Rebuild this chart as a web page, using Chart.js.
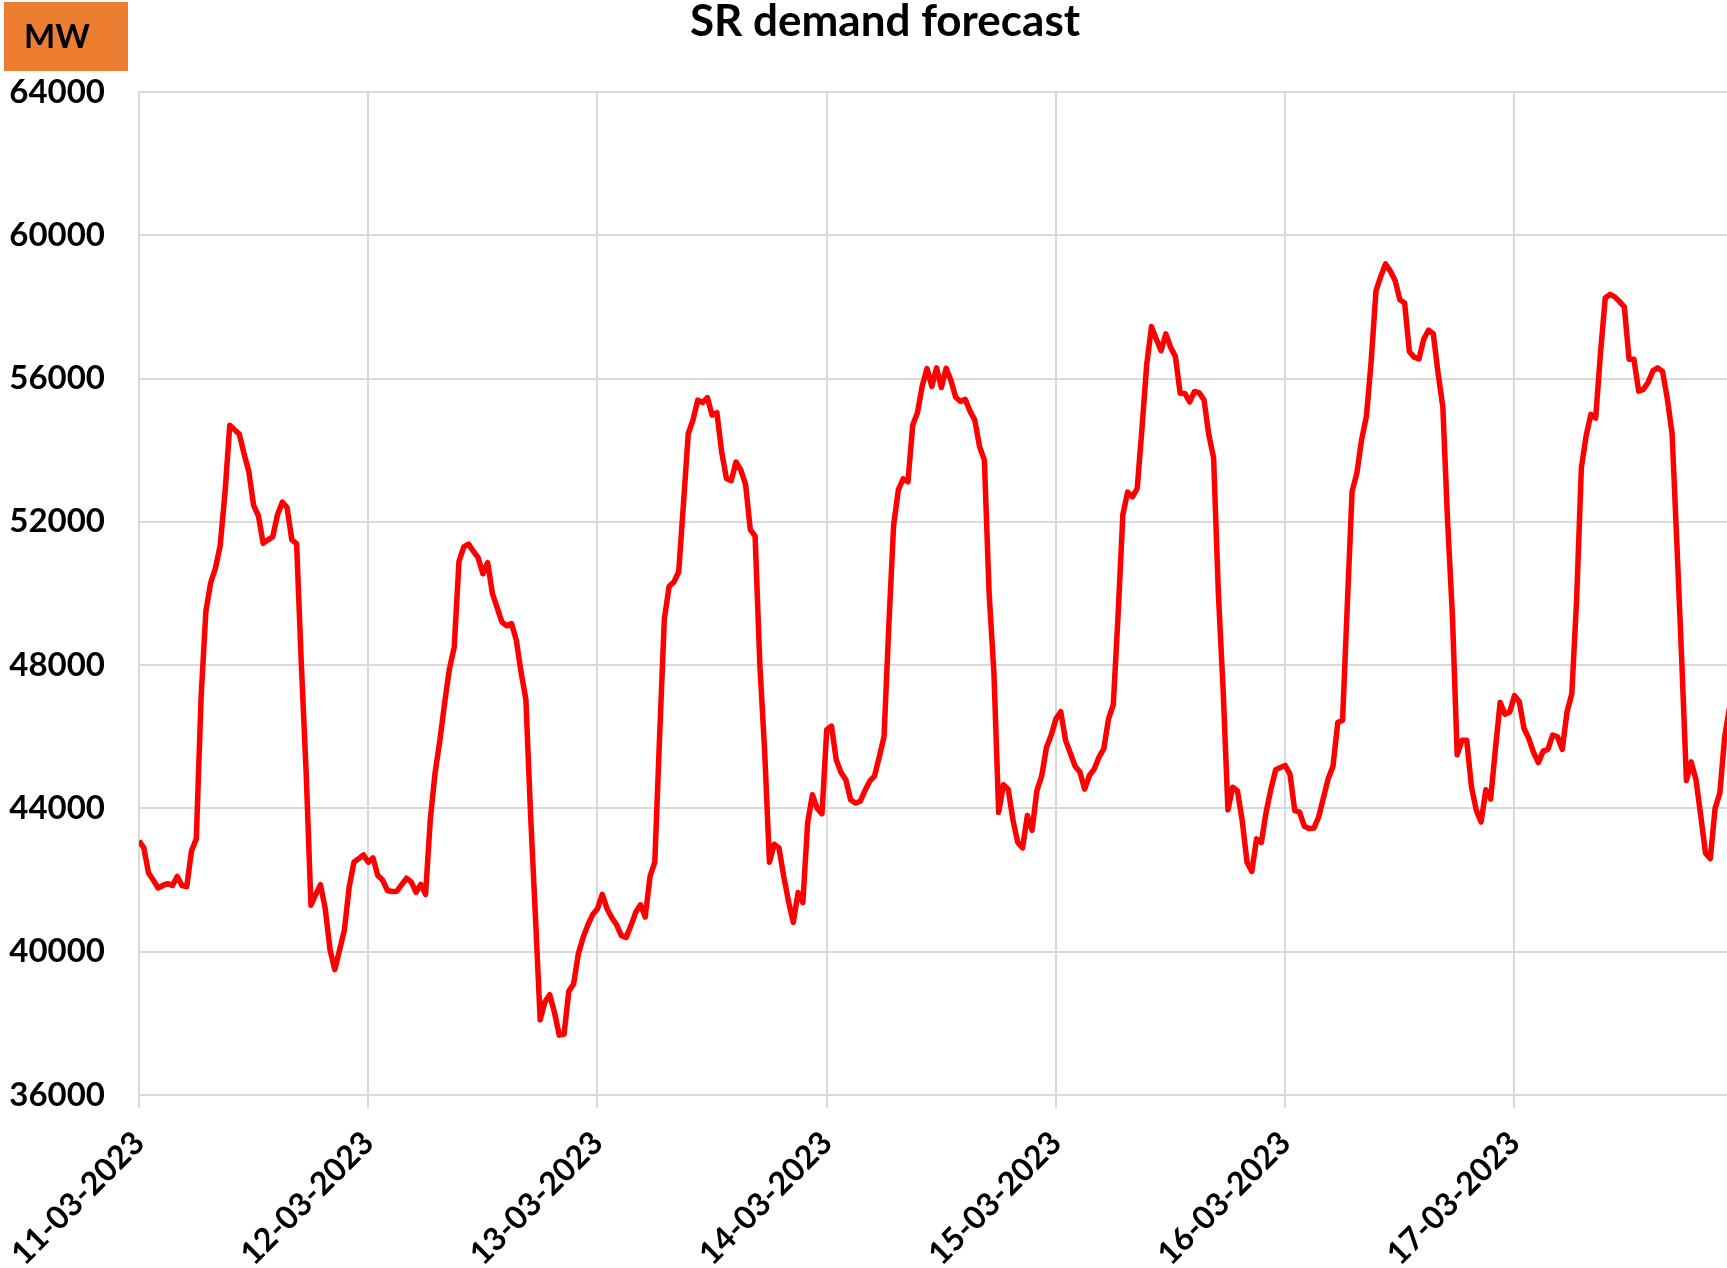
<!DOCTYPE html>
<html>
<head>
<meta charset="utf-8">
<script src="https://cdn.jsdelivr.net/npm/chart.js@4.4.1/dist/chart.umd.min.js"></script>
<style>
    body { margin: 0; background: #ffffff; }
    canvas { display: block; }
</style>
</head>
<body>
<canvas id="demandChart" width="1727" height="1268"></canvas>
<script>
const dayLabels = ['11-03-2023', '12-03-2023', '13-03-2023', '14-03-2023', '15-03-2023', '16-03-2023', '17-03-2023'];

// half-hourly forecast, MW, starting 00:00 of each day
const demand11 = [43100, 42900, 42200, 42000, 41780, 41850, 41900, 41850, 42100, 41850, 41820, 42820, 43150, 47100, 49500, 50300, 50700, 51340, 52800, 54700, 54570, 54450, 53900, 53400, 52460, 52170, 51400, 51500, 51580, 52200, 52550, 52400, 51500, 51390, 48000, 45000, 41300, 41600, 41870, 41200, 40050, 39500, 40050, 40600, 41800, 42500, 42600, 42700];
const demand12 = [42500, 42620, 42130, 42000, 41710, 41680, 41690, 41870, 42050, 41950, 41660, 41880, 41600, 43700, 45000, 45900, 46950, 47900, 48500, 50900, 51300, 51380, 51180, 51000, 50550, 50860, 50000, 49600, 49200, 49100, 49160, 48700, 47800, 47050, 43800, 41000, 38100, 38600, 38800, 38300, 37670, 37700, 38900, 39100, 39950, 40400, 40750, 41040];
const demand13 = [41200, 41600, 41200, 40950, 40750, 40450, 40400, 40730, 41100, 41310, 40970, 42100, 42500, 46000, 49300, 50200, 50320, 50600, 52500, 54460, 54850, 55400, 55330, 55470, 54980, 55050, 53950, 53210, 53150, 53670, 53450, 53050, 51780, 51600, 48000, 45600, 42500, 43000, 42900, 42100, 41400, 40820, 41650, 41370, 43600, 44380, 44000, 43850];
const demand14 = [46200, 46300, 45350, 45000, 44800, 44240, 44150, 44200, 44500, 44760, 44900, 45440, 46010, 49100, 51900, 52900, 53200, 53120, 54700, 55050, 55800, 56280, 55780, 56300, 55750, 56290, 55950, 55480, 55360, 55420, 55090, 54840, 54100, 53730, 50000, 47800, 43890, 44660, 44530, 43670, 43050, 42900, 43800, 43390, 44500, 44900, 45700, 46050];
const demand15 = [46500, 46700, 45900, 45550, 45180, 45020, 44540, 44920, 45100, 45430, 45660, 46500, 46900, 49400, 52200, 52830, 52700, 52930, 54600, 56400, 57450, 57100, 56780, 57250, 56870, 56620, 55590, 55580, 55350, 55640, 55600, 55400, 54430, 53790, 50000, 47300, 43960, 44590, 44490, 43650, 42500, 42240, 43150, 43050, 43900, 44540, 45080, 45140];
const demand16 = [45200, 44950, 43940, 43900, 43500, 43440, 43450, 43760, 44300, 44830, 45180, 46400, 46460, 49700, 52850, 53360, 54300, 54950, 56500, 58450, 58850, 59200, 59000, 58740, 58200, 58110, 56750, 56600, 56550, 57100, 57350, 57250, 56150, 55200, 52000, 49400, 45500, 45900, 45900, 44600, 43950, 43620, 44520, 44260, 45650, 46960, 46630, 46690];
const demand17 = [47150, 46980, 46230, 45950, 45560, 45280, 45600, 45650, 46050, 46000, 45650, 46690, 47200, 49800, 53500, 54400, 55000, 54900, 56700, 58250, 58350, 58280, 58150, 58000, 56540, 56540, 55650, 55700, 55900, 56220, 56300, 56200, 55440, 54460, 51400, 48200, 44780, 45300, 44800, 43800, 42750, 42600, 44000, 44430, 45990, 46800];

const yTicks = [36000, 40000, 44000, 48000, 52000, 56000, 60000, 64000];

const stepsPerDay = 48;
const lastVisibleDay = 6.927;
const gridColor = '#d9d9d9';

const demandByDay = [demand11, demand12, demand13, demand14, demand15, demand16, demand17];

const demandPoints = demandByDay.flatMap((dayValues, dayIndex) =>
    dayValues.map((mw, step) => ({ x: dayIndex + step / stepsPerDay, y: mw }))
);

const headerPlugin = {
    id: 'header',
    afterDraw: (chart) => {
        const ctx = chart.ctx;
        ctx.save();

        ctx.fillStyle = '#ed7d31';
        ctx.fillRect(4, 2, 124, 69);
        ctx.fillStyle = '#000000';
        ctx.font = 'bold 33px Lato';
        ctx.textAlign = 'center';
        ctx.textBaseline = 'alphabetic';
        ctx.fillText('MW', 57, 48);

        ctx.font = 'bold 44px Lato';
        ctx.fillText('SR demand forecast', 885, 36);

        ctx.restore();
    }
};

const ctx = document.getElementById('demandChart').getContext('2d');

const demandChart = new Chart(ctx, {
    type: 'line',
    data: {
        datasets: [{
            label: 'SR demand forecast',
            data: demandPoints,
            borderColor: '#ff0000',
            backgroundColor: '#ff0000',
            borderWidth: 5.5,
            borderJoinStyle: 'round',
            pointRadius: 0,
            tension: 0,
        }]
    },
    options: {
        responsive: false,
        animation: false,
        events: [],
        layout: {
            padding: { top: 92, left: 0, right: 0, bottom: 0 }
        },
        scales: {
            x: {
                type: 'linear',
                min: 0,
                max: lastVisibleDay,
                grid: {
                    color: gridColor,
                    lineWidth: 2,
                    tickLength: 13,
                },
                border: { color: gridColor, width: 2 },
                ticks: {
                    stepSize: 1,
                    includeBounds: false,
                    autoSkip: false,
                    minRotation: 45,
                    maxRotation: 45,
                    padding: 16,
                    color: '#000000',
                    font: { family: 'Lato', size: 32, weight: 'bold' },
                    callback: (value) => dayLabels[value] ?? '',
                },
                afterFit: (scale) => {
                    scale.height = 173;
                    scale.paddingLeft = 0;
                    scale.paddingRight = 0;
                },
            },
            y: {
                min: 36000,
                max: 64000,
                afterBuildTicks: (scale) => {
                    scale.ticks = yTicks.map((value) => ({ value }));
                },
                grid: {
                    color: gridColor,
                    lineWidth: 2,
                    drawTicks: false,
                },
                border: { color: gridColor, width: 2 },
                ticks: {
                    padding: 34,
                    color: '#000000',
                    font: { family: 'Lato', size: 33, weight: 'bold' },
                    callback: (value) => String(value),
                },
                afterFit: (scale) => { scale.width = 139; },
            }
        },
        plugins: {
            legend: { display: false },
            title: { display: false },
            tooltip: { enabled: false },
        }
    },
    plugins: [headerPlugin]
});
</script>
</body>
</html>
